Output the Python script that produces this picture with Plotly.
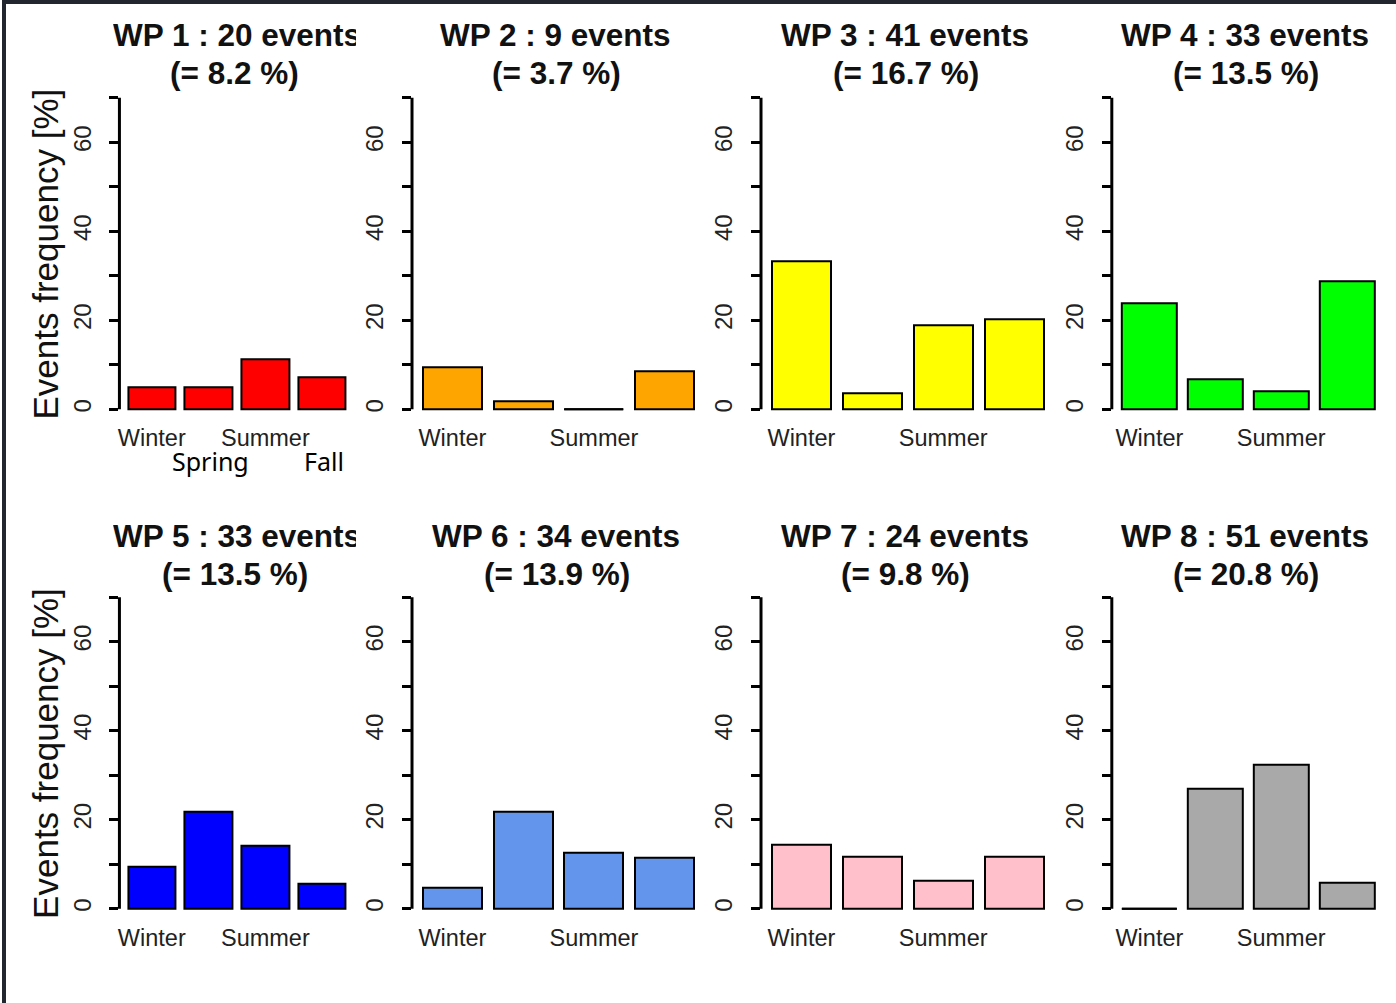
import plotly.graph_objects as go

# ---------------- data ----------------
seasons = ["Winter", "Spring", "Summer", "Fall"]
shown_season_labels = ["Winter", "", "Summer", ""]   # R drops overlapping labels
wp_names = ["WP 1", "WP 2", "WP 3", "WP 4", "WP 5", "WP 6", "WP 7", "WP 8"]
wp_events = [20, 9, 41, 33, 33, 34, 24, 51]
wp_share = [8.2, 3.7, 16.7, 13.5, 13.5, 13.9, 9.8, 20.8]

wp1 = [5.0, 5.0, 11.2, 7.1]
wp2 = [9.4, 1.9, 0.0, 8.6]
wp3 = [33.3, 3.6, 18.9, 20.2]
wp4 = [23.8, 6.7, 4.0, 28.8]
wp5 = [9.4, 21.9, 14.2, 5.6]
wp6 = [4.8, 21.9, 12.5, 11.5]
wp7 = [14.4, 11.6, 6.2, 11.6]
wp8 = [0.0, 27.0, 32.4, 5.8]
wp_values = [wp1, wp2, wp3, wp4, wp5, wp6, wp7, wp8]

wp_colors = ["#FF0000", "#FFA500", "#FFFF00", "#00FF00",
             "#0000FF", "#6495ED", "#FFC0CB", "#A9A9A9"]

y_tick_vals = [0, 10, 20, 30, 40, 50, 60, 70]
y_tick_text = ["0", "", "20", "", "40", "", "60", ""]
y_label = "Events frequency [%]"

# ---------------- layout geometry (pixels) ----------------
W, H = 1396, 1003
col_px = [(117.6, 353.0), (410.6, 704.1), (760.1, 1054.0), (1111.4, 1384.6)]
row_px = [(85.3, 421.8), (584.7, 921.2)]

# R barplot geometry: width 1, space 0.2
bar_pos = [0.7 + 1.2 * i for i in range(len(seasons))]
x_range = [0.016, 4.984]
y_range = [-2.8, 72.8]

def px_x(p):
    return p / W

def px_y(p):
    return 1 - p / H

fig = go.Figure()
shapes = []
annotations = []

for k, vals in enumerate(wp_values):
    row, col = divmod(k, 4)
    sfx = "" if k == 0 else str(k + 1)
    xa, ya = "x" + sfx, "y" + sfx
    fig.add_trace(go.Bar(
        x=bar_pos, y=vals, width=1.0,
        marker=dict(color=wp_colors[k], line=dict(color="black", width=2)),
        xaxis=xa, yaxis=ya, showlegend=False, hoverinfo="x+y",
        customdata=seasons,
    ))
    x0, x1 = col_px[col]
    y0, y1 = row_px[row]
    fig.layout["xaxis" + sfx] = dict(
        domain=[px_x(x0), px_x(x1)], range=x_range, anchor=ya,
        tickvals=bar_pos, ticktext=shown_season_labels, ticks="",
        showgrid=False, zeroline=False, showline=False,
        tickfont=dict(family="Liberation Sans, Arial", size=23.5, color="#222"),
        ticklabelstandoff=0,
    )
    fig.layout["yaxis" + sfx] = dict(
        domain=[px_y(y1), px_y(y0)], range=y_range, anchor=xa,
        tickvals=y_tick_vals, ticktext=y_tick_text, tickangle=-90,
        ticks="outside", ticklen=9, tickwidth=3, tickcolor="black",
        showgrid=False, zeroline=False, showline=False,
        tickfont=dict(family="Liberation Sans, Arial", size=24, color="#222"),
        ticklabelstandoff=9,
    )
    # R-style axis line from first to last tick
    shapes.append(dict(type="line", xref=xa + " domain", yref=ya,
                       x0=0, x1=0, y0=y_tick_vals[0], y1=y_tick_vals[-1],
                       line=dict(color="black", width=3)))
    # zero-height bars drawn as a flat outline (as R does)
    for p, v in zip(bar_pos, vals):
        if v == 0:
            shapes.append(dict(type="line", xref=xa, yref=ya,
                               x0=p - 0.5, x1=p + 0.5, y0=0, y1=0,
                               line=dict(color="black", width=2)))
    # titles
    cx = (x0 + x1) / 2
    t1 = f"{wp_names[k]} : {wp_events[k]} events"
    t2 = f"(= {wp_share[k]} %)"
    ty = 35 + row * 501
    tfont = dict(family="Liberation Sans, Arial", size=31.5, color="#111")
    if col == 0:
        annotations.append(dict(text=f"<b>{t1}</b>", xref="paper", yref="paper",
                                x=px_x(110), y=px_y(ty), xanchor="left", yanchor="middle",
                                width=243, align="left", borderpad=0,
                                showarrow=False, font=tfont))
    else:
        annotations.append(dict(text=f"<b>{t1}</b>", xref="paper", yref="paper",
                                x=px_x(cx - 3), y=px_y(ty), xanchor="center", yanchor="middle",
                                showarrow=False, font=tfont))
    annotations.append(dict(text=f"<b>{t2}</b>", xref="paper", yref="paper",
                            x=px_x(cx - 2), y=px_y(ty + 38), xanchor="center", yanchor="middle",
                            showarrow=False, font=tfont))
    if col == 0:
        annotations.append(dict(text=y_label, xref="paper", yref="paper",
                                x=px_x(44), y=px_y((y0 + y1) / 2), textangle=-90,
                                xanchor="center", yanchor="middle", showarrow=False,
                                font=dict(family="Liberation Sans, Arial", size=35, color="#111")))

# labels added under the first panel for the hidden categories
for idx in (1, 3):
    annotations.append(dict(text=seasons[idx], xref="x", yref="paper",
                            x=bar_pos[idx], y=px_y(461), xanchor="center", yanchor="middle",
                            xshift=2, showarrow=False,
                            font=dict(family="Noto Sans", size=25, color="black")))

# dark frame strips (top and left) of the screenshot
shapes.append(dict(type="rect", xref="paper", yref="paper", x0=0, x1=px_x(4), y0=0, y1=1,
                   fillcolor="#22262e", line=dict(width=0), layer="above"))
shapes.append(dict(type="rect", xref="paper", yref="paper", x0=0, x1=1, y0=px_y(4), y1=1,
                   fillcolor="#22262e", line=dict(width=0), layer="above"))

fig.update_layout(
    width=W, height=H, margin=dict(l=0, r=0, t=0, b=0),
    paper_bgcolor="white", plot_bgcolor="white",
    shapes=shapes, annotations=annotations, bargap=0,
)

fig.write_html(
    "out.html",
    config={"displayModeBar": False},
    post_script="document.body.style.margin='0';document.body.style.overflow='hidden';",
)
